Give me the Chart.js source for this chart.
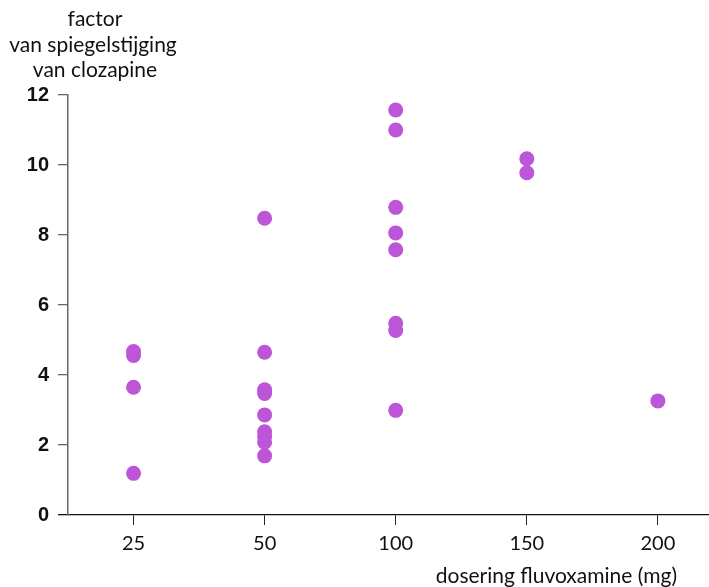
<!DOCTYPE html>
<html>
<head>
<meta charset="utf-8">
<script src="https://cdn.jsdelivr.net/npm/chart.js@4"></script>
<style>
  html, body { margin: 0; padding: 0; background: #fff; }
  #wrap { width: 709px; height: 587px; }
</style>
</head>
<body>
<div id="wrap"><canvas id="clozapine"></canvas></div>
<script>
// dosering fluvoxamine (mg) - evenly spaced categories
var doses = ['25', '50', '100', '150', '200'];
// factor van spiegelstijging per dose
var factors25 = [4.67, 4.56, 3.65, 1.19];
var factors50 = [8.48, 4.65, 3.58, 3.47, 2.86, 2.38, 2.25, 2.08, 1.69];
var factors100 = [11.57, 11.0, 8.79, 8.06, 7.58, 5.48, 5.27, 2.99];
var factors150 = [10.18, 9.78];
var factors200 = [3.26];
var yTicks = [0, 2, 4, 6, 8, 10, 12];

var groups = [factors25, factors50, factors100, factors150, factors200];
var points = [];
groups.forEach(function (vals, i) {
  vals.forEach(function (v) { points.push({ x: i, y: v }); });
});

var axisTitles = {
  id: 'axisTitles',
  afterDraw: function (chart) {
    var c = chart.ctx;
    c.save();
    c.fillStyle = '#111';
    c.font = '21px Lato, "Open Sans", sans-serif';
    c.textAlign = 'center';
    c.textBaseline = 'middle';
    c.fillText('factor', 95, 19);
    c.fillText('van spiegelstijging', 93, 45);
    c.fillText('van clozapine', 95, 70);
    c.textAlign = 'right';
    c.fillText('dosering fluvoxamine (mg)', 677, 576);
    c.restore();
  }
};

var ctx = document.getElementById('clozapine');

var myChart = new Chart(ctx, {
  type: 'scatter',
  data: {
    datasets: [
      {
        label: 'factor van spiegelstijging',
        data: points,
        backgroundColor: '#bd55d8',
        borderColor: '#bd55d8',
        borderWidth: 0,
        pointRadius: 7.5,
        pointHoverRadius: 7.5
      }
    ]
  },
  options: {
    responsive: true,
    maintainAspectRatio: false,
    animation: false,
    layout: { autoPadding: false, padding: { top: 95, right: 0, bottom: 0, left: 0 } },
    plugins: {
      legend: { display: false },
      tooltip: { enabled: false }
    },
    scales: {
      x: {
        type: 'linear',
        min: -0.5,
        max: 4.39,
        afterBuildTicks: function (scale) {
          scale.ticks = doses.map(function (d, i) { return { value: i }; });
        },
        afterFit: function (scale) { scale.height = 72; },
        grid: {
          drawOnChartArea: false,
          drawTicks: true,
          tickLength: 10,
          color: '#222',
          lineWidth: 1
        },
        border: { color: '#111', width: 1.3 },
        ticks: {
          padding: 7,
          color: '#111',
          font: { family: 'Lato, "Open Sans", sans-serif', size: 20 },
          callback: function (v) { return doses[v]; }
        }
      },
      y: {
        min: 0,
        max: 12,
        afterBuildTicks: function (scale) {
          scale.ticks = yTicks.map(function (v) { return { value: v }; });
        },
        afterFit: function (scale) { scale.width = 68; },
        grid: {
          drawOnChartArea: false,
          drawTicks: true,
          tickLength: 10,
          color: function (c) { return c.tick && c.tick.value === 0 ? '#111' : '#666'; },
          lineWidth: 1.3
        },
        border: { color: '#666', width: 1.5 },
        ticks: {
          padding: 9,
          color: '#111',
          font: { family: '"Liberation Sans", Arial, sans-serif', size: 20, weight: 'bold' }
        }
      }
    }
  },
  plugins: [axisTitles]
});
</script>
</body>
</html>
